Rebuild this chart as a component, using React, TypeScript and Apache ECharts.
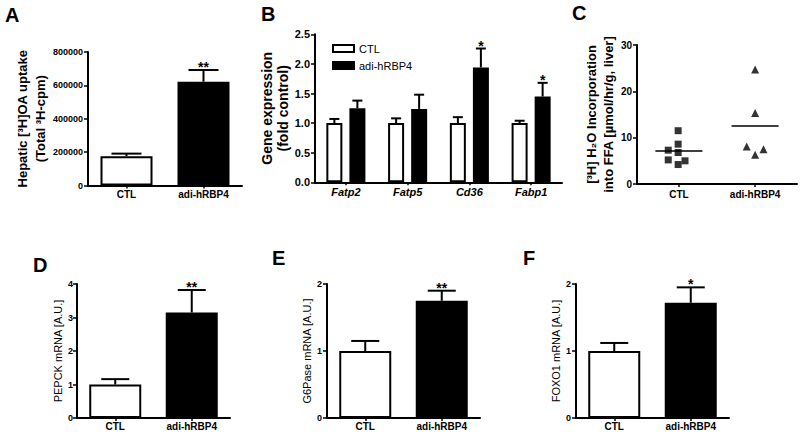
import React, { useEffect, useRef } from 'react';
import * as echarts from 'echarts';

const FONT = 'Arial, "Liberation Sans", Helvetica, sans-serif';

// ---- Panel A: hepatic [3H]OA uptake ----
const aCategories = ['CTL', 'adi-hRBP4'];
const aMeans = [175000, 622000];
const aErrTops = [191000, 692000];
const aSig = ['', '**'];

// ---- Panel B: gene expression ----
const bCategories = ['Fatp2', 'Fatp5', 'Cd36', 'Fabp1'];
const bCtlMeans = [1.0, 1.0, 1.0, 1.0];
const bCtlErrTops = [1.07, 1.08, 1.1, 1.04];
const bAdiMeans = [1.25, 1.24, 1.94, 1.45];
const bAdiErrTops = [1.38, 1.48, 2.26, 1.68];
const bCtlSig = ['', '', '', ''];
const bAdiSig = ['', '', '*', '*'];

// ---- Panel C: [3H]H2O incorporation (individual animals) ----
const cCategories = ['CTL', 'adi-hRBP4'];
const cCtlX = [-0.01, -0.01, -0.14, -0.01, -0.14, -0.01, 0.08];
const cCtlY = [11.5, 8.6, 7.3, 6.8, 5.2, 4.2, 5.0];
const cAdiX = [1.0, 1.0, 0.89, 1.11, 1.0];
const cAdiY = [24.7, 15.3, 8.1, 7.5, 6.3];
const cMeans = [7.1, 12.5];

// ---- Panels D, E, F ----
const dfCategories = ['CTL', 'adi-hRBP4'];
const dMeans = [1.0, 3.15];
const dErrTops = [1.16, 3.82];
const dSig = ['', '**'];
const eMeans = [1.0, 1.75];
const eErrTops = [1.15, 1.9];
const eSig = ['', '**'];
const fMeans = [1.0, 1.72];
const fErrTops = [1.12, 1.95];
const fSig = ['', '*'];

const WHITE_BAR = { color: '#ffffff', borderColor: '#000000', borderWidth: 2 };
const BLACK_BAR = { color: '#000000', borderColor: '#000000', borderWidth: 2 };

function errSeries(idx: number, means: number[], tops: number[], sig: string[], offset: number, capW: number) {
  return {
    type: 'custom',
    xAxisIndex: idx,
    yAxisIndex: idx,
    z: 5,
    silent: true,
    data: means.map((m, i) => [i, m, tops[i]]),
    renderItem: (params: any, api: any) => {
      const i = api.value(0);
      const p0 = api.coord([i, api.value(1)]);
      const p1 = api.coord([i, api.value(2)]);
      const cx = p0[0] + offset;
      const children: any[] = [
        { type: 'line', shape: { x1: cx, y1: p0[1], x2: cx, y2: p1[1] }, style: { stroke: '#000', lineWidth: 2 } },
        { type: 'line', shape: { x1: cx - capW / 2, y1: p1[1], x2: cx + capW / 2, y2: p1[1] }, style: { stroke: '#000', lineWidth: 2 } },
      ];
      const s = sig[params.dataIndex];
      if (s) {
        children.push({
          type: 'text',
          x: cx,
          y: p1[1] - 3,
          style: { text: s, fill: '#000', font: `bold 14px ${FONT}`, align: 'center', verticalAlign: 'middle' },
        });
      }
      return { type: 'group', children };
    },
  };
}

function yAxis(idx: number, max: number, interval: number, labelSize: number, name: string, nameGap: number,
  nameSize: number, nameBold: boolean, lineHeight: number, formatter?: (v: number) => string, margin = 5) {
  return {
    gridIndex: idx,
    type: 'value',
    min: 0,
    max,
    interval,
    axisLine: { show: true, onZero: false, lineStyle: { color: '#000', width: 2 } },
    axisTick: { show: true, length: 4, lineStyle: { color: '#000', width: 1.5 } },
    splitLine: { show: false },
    axisLabel: {
      color: '#000', fontWeight: 'bold', fontSize: labelSize, fontFamily: FONT, margin,
      formatter: formatter || ((v: number) => String(v)),
    },
    name,
    nameLocation: 'middle',
    nameGap,
    nameRotate: 90,
    nameTextStyle: {
      color: '#000', fontSize: nameSize, fontWeight: nameBold ? 'bold' : 'normal', fontFamily: FONT, lineHeight,
    },
  };
}

function catAxis(idx: number, cats: string[], fontSize: number, margin: number, italic = false) {
  return {
    gridIndex: idx,
    type: 'category',
    data: cats,
    axisLine: { show: true, onZero: false, lineStyle: { color: '#000', width: 2 } },
    axisTick: { show: true, alignWithLabel: true, length: 3, lineStyle: { color: '#000', width: 1.5 } },
    axisLabel: {
      color: '#000', fontWeight: 'bold', fontSize, fontFamily: FONT, margin,
      fontStyle: italic ? 'italic' : 'normal', interval: 0,
    },
    splitLine: { show: false },
  };
}

function twoBar(idx: number, means: number[]) {
  return {
    type: 'bar',
    xAxisIndex: idx,
    yAxisIndex: idx,
    barWidth: 52,
    data: means.map((v, i) => ({ value: v, itemStyle: i === 0 ? WHITE_BAR : BLACK_BAR })),
  };
}

function panelLabel(text: string, x: number, y: number) {
  return {
    type: 'text',
    x,
    y,
    style: { text, fill: '#000', font: `bold 20px ${FONT}`, align: 'left', verticalAlign: 'middle' },
  };
}

export default function App() {
  const ref = useRef<HTMLDivElement>(null);
  useEffect(() => {
    if (!ref.current) return;
    const chart = echarts.init(ref.current, null, { renderer: 'svg' });
    const option: any = {
      animation: false,
      backgroundColor: '#ffffff',
      textStyle: { fontFamily: FONT },
      grid: [
        { left: 88, top: 52, width: 154, height: 133.5 },
        { left: 315, top: 34.3, width: 247, height: 148 },
        { left: 637, top: 45, width: 160, height: 139 },
        { left: 77, top: 284, width: 153, height: 134 },
        { left: 327, top: 284, width: 153, height: 134 },
        { left: 576, top: 284, width: 153, height: 134 },
      ],
      legend: {
        data: ['CTL', 'adi-hRBP4'],
        orient: 'vertical',
        left: 327,
        top: 38,
        itemWidth: 21,
        itemHeight: 7,
        itemGap: 6,
        icon: 'rect',
        textStyle: { color: '#000', fontSize: 11, fontFamily: FONT },
        selectedMode: false,
      },
      xAxis: [
        catAxis(0, aCategories, 10, 4),
        catAxis(1, bCategories, 11, 4, true),
        {
          gridIndex: 2,
          type: 'value',
          min: -0.55,
          max: 1.55,
          axisLine: { show: true, onZero: false, lineStyle: { color: '#000', width: 2 } },
          axisTick: { show: true, length: 3, customValues: [0, 1], lineStyle: { color: '#000', width: 1.5 } },
          axisLabel: {
            customValues: [0, 1],
            formatter: (v: number) => cCategories[Math.round(v)] || '',
            color: '#000', fontWeight: 'bold', fontSize: 10, fontFamily: FONT, margin: 5,
          },
          splitLine: { show: false },
        },
        catAxis(3, dfCategories, 10, 3),
        catAxis(4, dfCategories, 10, 3),
        catAxis(5, dfCategories, 10, 3),
      ],
      yAxis: [
        yAxis(0, 800000, 200000, 9, 'Hepatic [³H]OA uptake\n(Total ³H-cpm)', 36, 13, true, 18),
        yAxis(1, 2.5, 0.5, 11, 'Gene expression\n(fold control)', 21, 14, true, 16, (v: number) => v.toFixed(1)),
        yAxis(2, 30, 10, 10, '[³H] H₂O Incorporation\ninto FFA [µmol/hr/g, liver]', 16, 13, true, 17),
        yAxis(3, 4, 1, 9, 'PEPCK mRNA [A.U.]', 13, 11, false, 12, undefined, 4),
        yAxis(4, 2, 1, 9, 'G6Pase mRNA [A.U.]', 13, 11, false, 12),
        yAxis(5, 2, 1, 9, 'FOXO1 mRNA [A.U.]', 12, 11, false, 12),
      ],
      series: [
        // A
        twoBar(0, aMeans),
        errSeries(0, aMeans, aErrTops, aSig, 0, 30),
        // B
        {
          name: 'CTL', type: 'bar', xAxisIndex: 1, yAxisIndex: 1, barWidth: 16, barGap: '44%',
          itemStyle: WHITE_BAR, data: bCtlMeans,
        },
        {
          name: 'adi-hRBP4', type: 'bar', xAxisIndex: 1, yAxisIndex: 1, barWidth: 16, barGap: '44%',
          itemStyle: BLACK_BAR, data: bAdiMeans,
        },
        errSeries(1, bCtlMeans, bCtlErrTops, bCtlSig, -11.5, 10),
        errSeries(1, bAdiMeans, bAdiErrTops, bAdiSig, 11.5, 10),
        // C
        {
          type: 'scatter', xAxisIndex: 2, yAxisIndex: 2, symbol: 'rect', symbolSize: 7,
          itemStyle: { color: '#000' }, data: cCtlX.map((x, i) => [x, cCtlY[i]]),
        },
        {
          type: 'scatter', xAxisIndex: 2, yAxisIndex: 2, symbol: 'triangle', symbolSize: 8,
          itemStyle: { color: '#000' }, data: cAdiX.map((x, i) => [x, cAdiY[i]]),
        },
        {
          type: 'custom', xAxisIndex: 2, yAxisIndex: 2, silent: true,
          data: cMeans.map((m, i) => [i, m]),
          renderItem: (params: any, api: any) => {
            const p = api.coord([api.value(0), api.value(1)]);
            return {
              type: 'line',
              shape: { x1: p[0] - 23.5, y1: p[1], x2: p[0] + 23.5, y2: p[1] },
              style: { stroke: '#000', lineWidth: 1.5 },
            };
          },
        },
        // D
        twoBar(3, dMeans),
        errSeries(3, dMeans, dErrTops, dSig, 0, 28),
        // E
        twoBar(4, eMeans),
        errSeries(4, eMeans, eErrTops, eSig, 0, 28),
        // F
        twoBar(5, fMeans),
        errSeries(5, fMeans, fErrTops, fSig, 0, 28),
      ],
      graphic: [
        panelLabel('A', 5, 14.5),
        panelLabel('B', 261, 14),
        panelLabel('C', 572, 12.5),
        panelLabel('D', 33, 265),
        panelLabel('E', 272, 257.5),
        panelLabel('F', 523, 257.5),
      ],
    };
    chart.setOption(option);
    return () => chart.dispose();
  }, []);
  return (
    <div
      ref={ref}
      style={{ position: 'fixed', left: 0, top: 0, width: 800, height: 436, background: '#fff' }}
    />
  );
}
